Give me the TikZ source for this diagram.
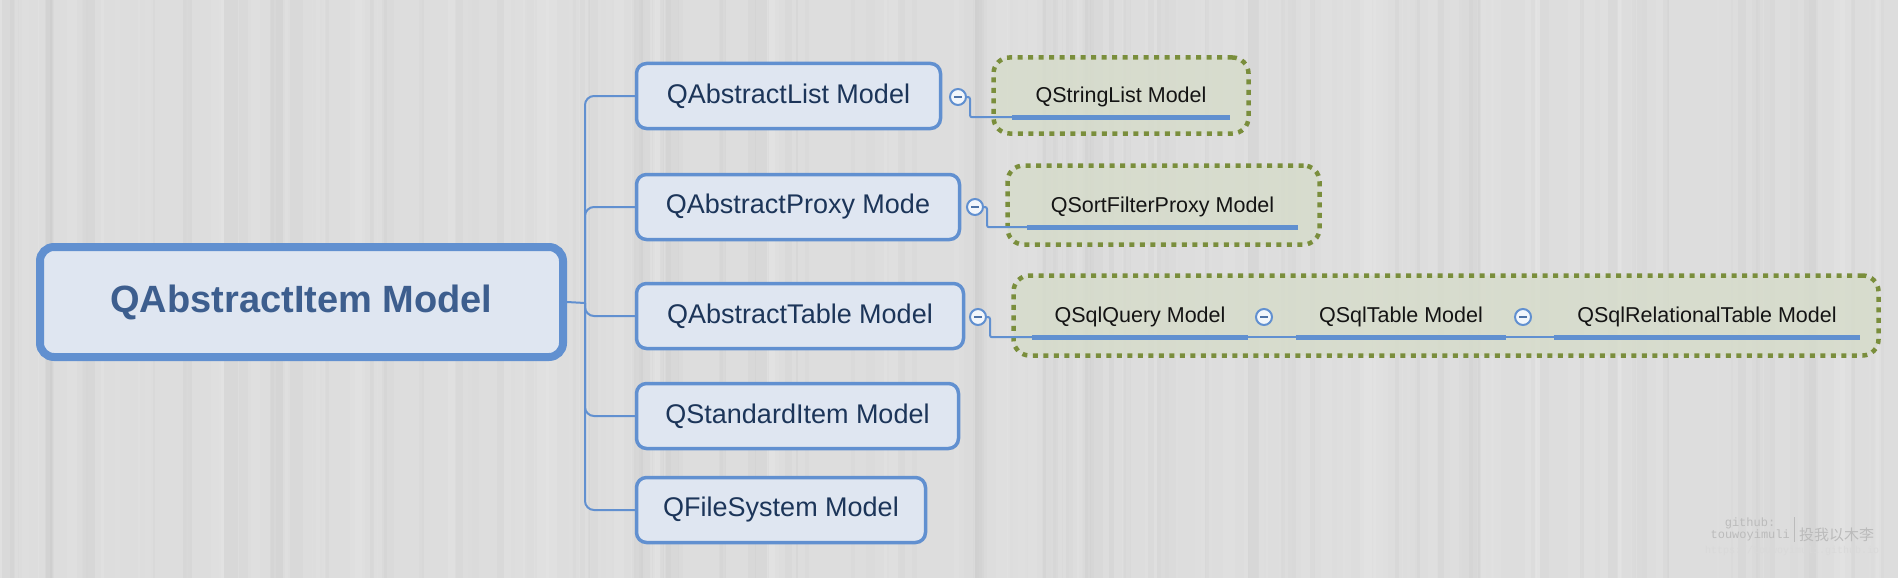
\documentclass[tikz,border=0pt]{standalone}
\usepackage{fontspec}
\setmainfont{Liberation Sans}
\newfontfamily\monof{Liberation Mono}
\newfontfamily\cjk{Noto Sans CJK SC}
\definecolor{bordblue}{HTML}{6190D0}
\definecolor{boxfill}{HTML}{DFE6F1}
\definecolor{navy}{HTML}{1C3559}
\definecolor{roottext}{HTML}{3D5E8E}
\definecolor{olive}{HTML}{7A8E3C}
\definecolor{grpfill}{HTML}{D6DCCA}
\definecolor{bg}{HTML}{DDDDDD}
\definecolor{wm}{HTML}{BBBBBB}
\tikzset{
  rootbox/.style={draw=bordblue, fill=boxfill, line width=8pt, rounded corners=14pt,
    minimum width=523pt, minimum height=110pt, inner sep=0pt, text=roottext,
    font=\bfseries\fontsize{38}{44}\selectfont},
  childbox/.style={draw=bordblue, fill=boxfill, line width=3.5pt, rounded corners=10pt,
    minimum height=65pt, inner sep=0pt, text=navy, font=\fontsize{27}{32}\selectfont},
  subnode/.style={minimum height=40pt, inner sep=0pt, text=black!92,
    font=\fontsize{21.5}{26}\selectfont},
  knob/.style={circle, draw=bordblue, fill=white!92!bordblue, line width=2pt,
    minimum size=16pt, inner sep=0pt,
    path picture={\draw[bordblue!80!black, line width=2pt]
      ([xshift=-4pt]path picture bounding box.center) -- ([xshift=4pt]path picture bounding box.center);}},
  groupbox/.style={draw=olive, fill=grpfill, fill opacity=0.8, line width=4.5pt,
    dash pattern=on 5pt off 5.5pt, rounded corners=16pt, inner sep=0pt},
  conn/.style={draw=bordblue, line width=2pt},
  uline/.style={draw=bordblue, line width=5pt},
  wmtext/.style={text=wm, inner sep=0pt}
}
\begin{document}
\begin{tikzpicture}[x=1pt, y=-1pt]
% background
\fill[bg] (0,0) rectangle (1898,578);
\useasboundingbox (0,0) rectangle (1898,578);
\pgfmathsetseed{11}
\foreach \i in {1,...,220}{
  \pgfmathsetmacro\xx{rnd*1898}
  \pgfmathsetmacro\ww{1+rnd*14}
  \pgfmathsetmacro\op{0.03+rnd*0.07}
  \pgfmathsetmacro\tone{rnd}
  \ifdim\tone pt>0.45pt
    \fill[white, opacity=\op] (\xx,0) rectangle ++(\ww,578);
  \else
    \fill[black!35, opacity=\op] (\xx,0) rectangle ++(\ww,578);
  \fi
}
% groups
\node[groupbox, minimum width=255pt, minimum height=76pt] (g1) at (1121,95.5) {};
\node[groupbox, minimum width=312pt, minimum height=79pt] (g2) at (1163.5,205) {};
\node[groupbox, minimum width=865pt, minimum height=80pt] (g3) at (1446,315.5) {};
% root and children
\node[rootbox] (root) at (301.5,302) {QAbstractItem Model};
\node[childbox, minimum width=304pt] (c1) at (788.5,96) {QAbstractList Model};
\node[childbox, minimum width=323pt] (c2) at (798,207) {QAbstractProxy Mode};
\node[childbox, minimum width=327pt] (c3) at (800,316) {QAbstractTable Model};
\node[childbox, minimum width=322pt] (c4) at (797.5,416) {QStandardItem Model};
\node[childbox, minimum width=289pt] (c5) at (781,510) {QFileSystem Model};
% trunk
\coordinate (j) at (585,303);
\draw[conn] (root.east) -- (j);
\foreach \c in {c1,c2,c3,c4,c5}{
  \draw[conn, rounded corners=9pt] (j) |- (\c.west);
}
% sub nodes
\node[subnode, minimum width=218pt] (s1) at (1121,97) {QStringList Model};
\node[subnode, minimum width=271pt] (s2) at (1162.5,207) {QSortFilterProxy Model};
\node[subnode, minimum width=216pt] (s3a) at (1140,317) {QSqlQuery Model};
\node[subnode, minimum width=210pt] (s3b) at (1401,317) {QSqlTable Model};
\node[subnode, minimum width=306pt] (s3c) at (1707,317) {QSqlRelationalTable Model};
% knobs
\node[knob] (k1) at (958,97) {};
\node[knob] (k2) at (975,207) {};
\node[knob] (k3) at (978,317) {};
\node[knob] (k3b) at (1264,317) {};
\node[knob] (k3c) at (1523,317) {};
% thin connectors
\draw[conn, rounded corners=2pt] (k1.east) -- ++(3,0) |- (s1.south west);
\draw[conn, rounded corners=2pt] (k2.east) -- ++(3,0) |- (s2.south west);
\draw[conn, rounded corners=2pt] (k3.east) -- ++(3,0) |- (s3a.south west);
\draw[conn] (s3a.south east) -- (s3b.south west);
\draw[conn] (s3b.south east) -- (s3c.south west);
% underlines
\foreach \s in {s1,s2,s3a,s3b,s3c}{
  \draw[uline] (\s.south west) -- (\s.south east);
}
% watermark
\node[wmtext, font=\monof\fontsize{12}{14}\selectfont] (wm1) at (1750,523) {github:};
\node[wmtext, font=\monof\fontsize{12}{14}\selectfont, anchor=east] (wm2) at (1790,535) {touwoyimuli};
\coordinate (wb1) at (1794,517);
\coordinate (wb2) at (1794,542);
\draw[wm, line width=1pt] (wb1) -- (wb2);
\node[wmtext, font=\cjk\fontsize{15}{17}\selectfont, anchor=west] (wm3) at (1799,535) {投我以木李};
\node[wmtext, text=black!15, font=\monof\fontsize{10}{12}\selectfont] (wm4) at (1792,551) {https://touwoyimuli.github.io};
\end{tikzpicture}
\end{document}
